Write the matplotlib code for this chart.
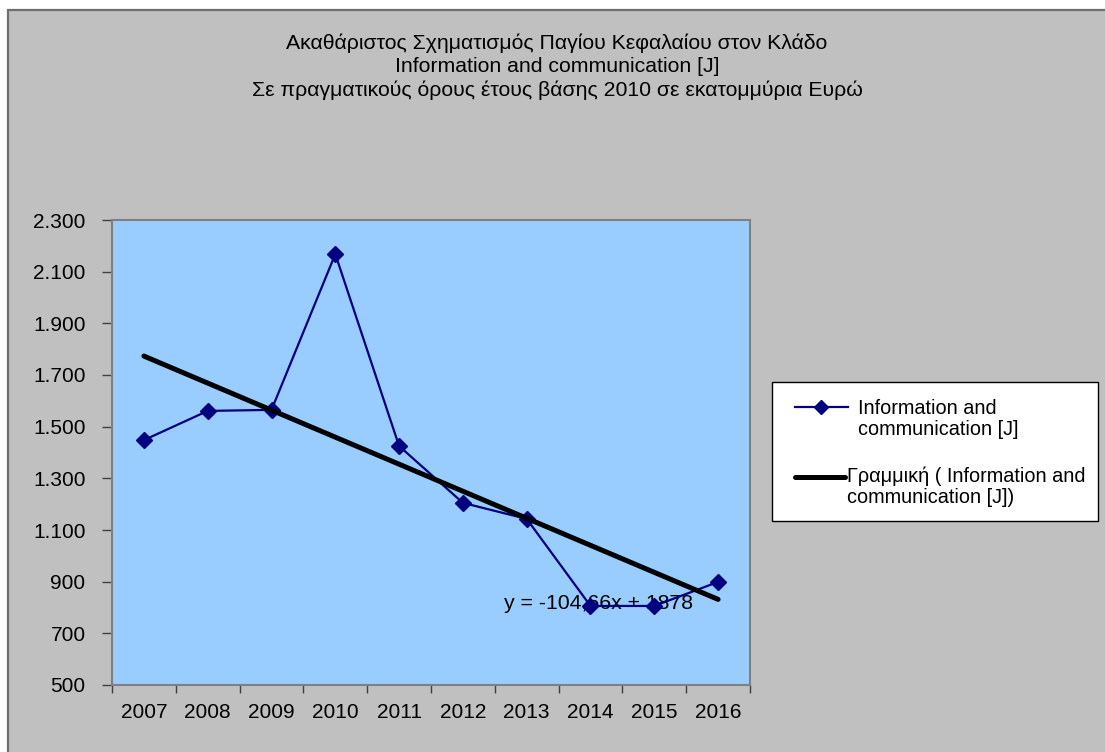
import matplotlib
matplotlib.use("Agg")
import matplotlib.pyplot as plt
from matplotlib.patches import Rectangle
from matplotlib.lines import Line2D
from matplotlib.ticker import FixedLocator, FuncFormatter

plt.rcParams['font.family'] = ['Liberation Sans', 'DejaVu Sans']

years = ['2007', '2008', '2009', '2010', '2011', '2012', '2013', '2014', '2015', '2016']
values = [1448, 1561, 1565, 2168, 1425, 1205, 1143, 806, 806, 899]
trend_slope = -104.66
trend_intercept = 1878
y_ticks = [500, 700, 900, 1100, 1300, 1500, 1700, 1900, 2100, 2300]
series_label = 'Information and\ncommunication [J]'
trend_label = 'Γραμμική ( Information and\ncommunication [J])'
title_lines = ['Ακαθάριστος Σχηματισμός Παγίου Κεφαλαίου στον Κλάδο',
               'Information and communication [J]',
               'Σε πραγματικούς όρους έτους βάσης 2010 σε εκατομμύρια Ευρώ']
equation = 'y = -104,66x + 1878'

W, H = 1105, 752
fig = plt.figure(figsize=(W / 100, H / 100), dpi=100, facecolor='white')


def fx(px):
    return px / W


def fy(py):
    return 1 - py / H


# outer chart area
bg = Rectangle((fx(8), -0.01), 1.01 - fx(8), 1.01 - 10 / H,
               transform=fig.transFigure, facecolor='#c0c0c0',
               edgecolor='#6e6e6e', linewidth=1.6, zorder=-10)
fig.patches.append(bg)

ax = fig.add_axes([fx(112), fy(685), (750 - 112) / W, (685 - 220) / H])
ax.set_zorder(2)
ax.set_facecolor('#99ccff')
for s in ax.spines.values():
    s.set_color('#808080')
    s.set_linewidth(1.5)

x = list(range(len(years)))
ax.plot(x, values, color='#000080', linewidth=1.6, marker='D', markersize=8.5,
        markerfacecolor='#000080', markeredgecolor='#000080', zorder=3)

tx = [x[0], x[-1]]
ty = [trend_slope * (i + 1) + trend_intercept for i in tx]
ax.plot(tx, ty, color='black', linewidth=3.6, solid_capstyle='round', zorder=4)

ax.text(7.12, 817, equation, ha='center', va='center', fontsize=15.3, color='black', zorder=2.5)

ax.set_xlim(-0.5, len(years) - 0.5)
ax.set_ylim(500, 2300)
ax.set_xticks(x)
ax.set_xticklabels(years)
ax.xaxis.set_minor_locator(FixedLocator([i - 0.5 for i in range(len(years) + 1)]))
ax.tick_params(axis='x', which='major', length=0, pad=13, labelsize=15)
ax.tick_params(axis='x', which='minor', length=6, width=1, color='#404040', direction='out')
ax.set_yticks(y_ticks)
ax.yaxis.set_major_formatter(FuncFormatter(lambda v, p: f'{int(v):,}'.replace(',', '.')))
ax.tick_params(axis='y', length=7, width=1, color='#404040', direction='out', pad=12, labelsize=15)

for i, line in enumerate(title_lines):
    fig.text(fx(557), fy(43 + i * 23.5), line, ha='center', va='center', fontsize=15.3)

# legend box (drawn manually to match positions)
fig.patches.append(Rectangle((fx(772), fy(521)), (1098 - 772) / W, (521 - 382) / H,
                             transform=fig.transFigure, facecolor='white',
                             edgecolor='black', linewidth=1.0, zorder=5))
fig.lines.append(Line2D([fx(795), fx(848)], [fy(407), fy(407)], transform=fig.transFigure,
                        color='#000080', linewidth=1.6, zorder=6))
fig.lines.append(Line2D([fx(821)], [fy(407)], transform=fig.transFigure, marker='D',
                        markersize=7, color='#000080', linestyle='none', zorder=6))
fig.text(fx(858), fy(419), series_label, ha='left', va='center', fontsize=14.3,
         linespacing=1.1, zorder=6)
fig.lines.append(Line2D([fx(795), fx(845)], [fy(477), fy(477)], transform=fig.transFigure,
                        color='black', linewidth=3.6, solid_capstyle='round', zorder=6))
fig.text(fx(847), fy(487), trend_label, ha='left', va='center', fontsize=14.3,
         linespacing=1.1, zorder=6)

fig.savefig('out.png', dpi=100, facecolor='white')
